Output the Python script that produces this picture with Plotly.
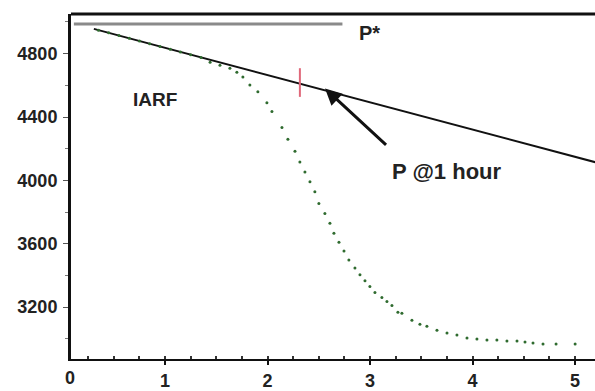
import plotly.graph_objects as go

# Measured pressure (green dots)
meas_x = [0.35, 0.45, 0.55, 0.65, 0.75, 0.85, 0.95, 1.05, 1.15, 1.25, 1.35,
          1.439, 1.535, 1.632, 1.700, 1.759, 1.827, 1.905, 1.993, 2.042, 2.140,
          2.198, 2.267, 2.315, 2.364, 2.413, 2.461, 2.50, 2.559, 2.608, 2.647,
          2.696, 2.745, 2.793, 2.852, 2.901, 2.950, 2.998, 3.047, 3.115, 3.164,
          3.213, 3.271, 3.310, 3.408, 3.486, 3.554, 3.652, 3.750, 3.847, 3.945,
          4.042, 4.140, 4.237, 4.335, 4.433, 4.511, 4.589, 4.687, 4.814, 5.0]
meas_y = [4948, 4931, 4914, 4897, 4879, 4862, 4845, 4828, 4811, 4793, 4776,
          4746, 4727, 4708, 4683, 4652, 4602, 4559, 4490, 4434, 4334,
          4259, 4184, 4116, 4053, 3991, 3929, 3854, 3791, 3729, 3667,
          3610, 3554, 3498, 3448, 3405, 3367, 3330, 3292, 3261, 3236,
          3211, 3168, 3161, 3118, 3093, 3080, 3055, 3037, 3024, 3005,
          2999, 2993, 2993, 2987, 2987, 2980, 2974, 2968, 2968, 2968]

# IARF straight line
iarf_x = [0.305, 5.3]
iarf_y = [4956, 4097]

# P* line
pstar_x = [0.11, 2.73]
pstar_y = [4987, 4987]

# P @ 1 hour marker
p1h_x = [2.315, 2.315]
p1h_y = [4708, 4527]

y_ticks = [3200, 3600, 4000, 4400, 4800]
x_ticks = [1, 2, 3, 4, 5]
x_range = [0.082, 5.194]
y_range = [2873, 5050]

fig = go.Figure()
fig.add_trace(go.Scatter(x=pstar_x, y=pstar_y, mode="lines",
                         line=dict(color="#8a8a8a", width=3), showlegend=False))
fig.add_trace(go.Scatter(x=iarf_x, y=iarf_y, mode="lines",
                         line=dict(color="#111111", width=2), showlegend=False))
fig.add_trace(go.Scatter(x=meas_x, y=meas_y, mode="markers",
                         marker=dict(color="#2f6b2f", size=3, symbol="circle"),
                         showlegend=False))
fig.add_trace(go.Scatter(x=p1h_x, y=p1h_y, mode="lines",
                         line=dict(color="#e0687a", width=2), showlegend=False))

tickf = dict(family="Arial", size=18, color="#222222", weight="bold")

fig.add_annotation(x=2.99, y=4933, text="P*", showarrow=False, xanchor="center",
                   yanchor="middle", font=dict(family="Arial", size=20, color="#222", weight="bold"))
fig.add_annotation(x=0.90, y=4509, text="IARF", showarrow=False, xanchor="center",
                   font=dict(family="Arial", size=19, color="#222", weight="bold"))
fig.add_annotation(x=3.75, y=4059, text="P @1 hour", showarrow=False, xanchor="center",
                   font=dict(family="Arial", size=22, color="#222", weight="bold"))
fig.add_annotation(x=2.56, y=4580, ax=3.17, ay=4215, xref="x", yref="y",
                   axref="x", ayref="y", text="", showarrow=True,
                   arrowhead=2, arrowsize=1.1, arrowwidth=3, arrowcolor="#111")
# "0" tick label sits left of the plot area (range begins just above 0)
fig.add_annotation(x=(0 - x_range[0]) / (x_range[1] - x_range[0]), y=0,
                   xref="paper", yref="paper", yanchor="top", yshift=-7,
                   text="0", showarrow=False, font=tickf)

fig.add_shape(type="line", xref="paper", yref="paper", x0=0, x1=1, y0=1, y1=1,
              line=dict(color="#111", width=3))

fig.update_layout(
    width=595, height=391,
    margin=dict(l=71, r=0, t=14, b=28),
    paper_bgcolor="white", plot_bgcolor="white",
    xaxis=dict(range=x_range, tickvals=x_ticks, showgrid=False, zeroline=False,
               showline=True, linecolor="#111", linewidth=2,
               ticks="outside", ticklen=4, tickcolor="#111", tickwidth=1.5,
               tickfont=tickf, ticklabelstandoff=0,
               minor=dict(dtick=0.25, ticks="inside", ticklen=3, tickcolor="#333", showgrid=False)),
    yaxis=dict(range=y_range, tickvals=y_ticks, showgrid=False, zeroline=False,
               showline=True, linecolor="#111", linewidth=3,
               ticks="outside", ticklen=5, tickcolor="#555", tickwidth=1,
               tickfont=tickf, ticklabelstandoff=2,
               minor=dict(dtick=200, tick0=3000, ticks="outside", ticklen=3, tickcolor="#777", showgrid=False)),
)

fig.write_html("out.html")
